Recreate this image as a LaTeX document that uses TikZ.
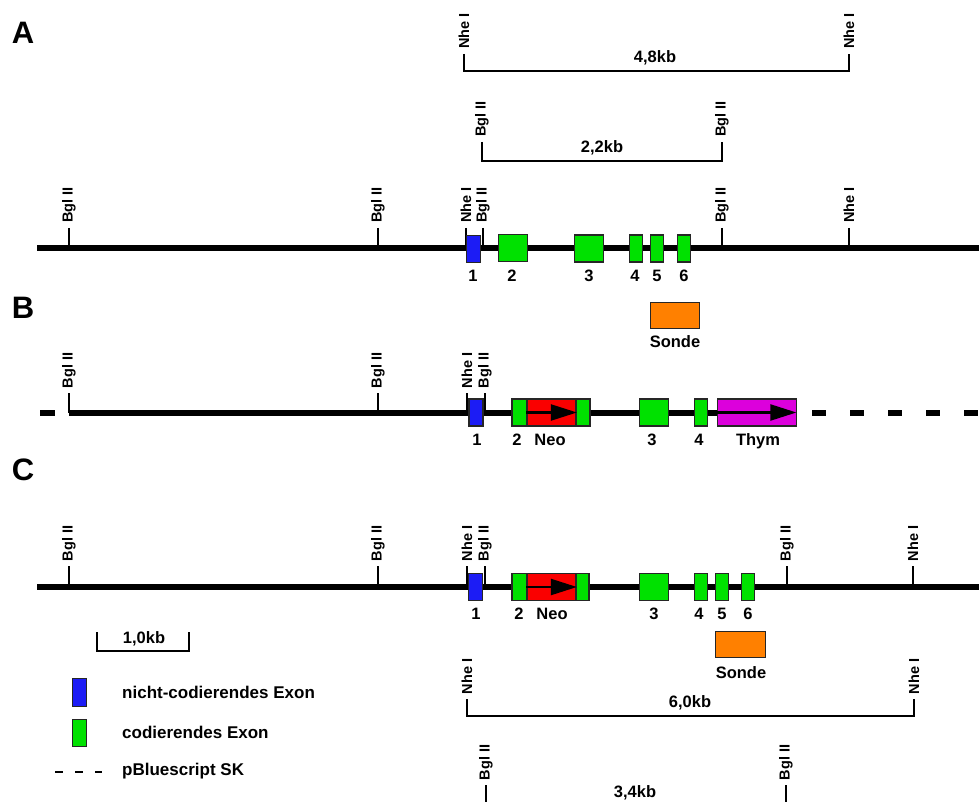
\documentclass[tikz,border=0pt]{standalone}
\usepackage{fontspec}
\setmainfont{Liberation Sans}
\usetikzlibrary{arrows.meta}
\definecolor{exonblue}{RGB}{28,28,245}
\definecolor{exongreen}{RGB}{0,225,0}
\definecolor{neored}{RGB}{250,0,0}
\definecolor{thymmag}{RGB}{220,0,220}
\definecolor{sondeorange}{RGB}{255,128,0}
\newcommand{\sitefont}{\bfseries\fontsize{14.5}{16}\selectfont}
\newcommand{\labfont}{\bfseries\fontsize{16.5}{18}\selectfont}
\newcommand{\legfont}{\bfseries\fontsize{17}{19}\selectfont}
\begin{document}
\begin{tikzpicture}[x=1pt, y=-1pt,
    dna/.style={line width=5.5pt},
    vector/.style={line width=5.5pt, dash pattern=on 14pt off 24pt},
    tick/.style={line width=1.7pt},
    bracket/.style={line width=1.7pt},
    site/.style={rotate=90, anchor=west, inner xsep=5pt, inner ysep=0pt, outer sep=0pt, font=\sitefont},
    exon/.style={draw=black!85, line width=1.8pt, fill=#1, minimum height=27pt, inner sep=0pt},
    num/.style={anchor=base, inner sep=0pt, font=\labfont},
    orf/.style={-{Triangle[length=26pt, width=16pt]}, line width=2.2pt},
    letter/.style={font=\bfseries\fontsize{31}{34}\selectfont}
]
    \useasboundingbox (0,0) rectangle (979,802);
    \clip (0,0) rectangle (979,802);

    % Panel letters
    \node[letter] (labA) at (23,33) {A};
    \node[letter] (labB) at (23,308) {B};
    \node[letter] (labC) at (23,470) {C};

    % A: fragments
    \node[site] (t1) at (464,54) {Nhe I};
    \node[site] (t2) at (849,54) {Nhe I};
    \draw[bracket] (t1.west) -- (t1.west |- 0,71) -| (t2.west);
    \node[num] (kbA1) at (655,63) {4,8kb};
    \node[site] (u1) at (482,142) {Bgl II};
    \node[site] (u2) at (722,142) {Bgl II};
    \draw[bracket] (u1.west) -- (u1.west |- 0,161) -| (u2.west);
    \node[num] (kbA2) at (602,153) {2,2kb};

    % A: wild type locus
    \coordinate (startA) at (37,248);
    \coordinate (endA) at (979,248);
    \draw[dna] (startA) -- (endA);
    \node[site] (a1) at (69,228) {Bgl II};
    \node[site] (a2) at (378,228) {Bgl II};
    \node[site] (a3) at (466,228) {Nhe I};
    \node[site] (a4) at (483,228) {Bgl II};
    \node[site] (a5) at (722,228) {Bgl II};
    \node[site] (a6) at (849,228) {Nhe I};
    \foreach \s in {a1,a2,a3,a4,a5,a6}
        \draw[tick] (\s.west) -- (\s.west |- startA);
    \node[exon=exonblue, minimum width=14pt] (ex1A) at (473.5,249) {};
    \node[exon=exongreen, minimum width=29pt] (ex2A) at (513,248) {};
    \node[exon=exongreen, minimum width=29pt] (ex3A) at (589,248.5) {};
    \node[exon=exongreen, minimum width=13pt] (ex4A) at (636,248.5) {};
    \node[exon=exongreen, minimum width=13pt] (ex5A) at (657,248.5) {};
    \node[exon=exongreen, minimum width=13pt] (ex6A) at (684,248.5) {};
    \node[num] (n1A) at (473,281) {1};
    \node[num] (n2A) at (512,281) {2};
    \node[num] (n3A) at (589,281) {3};
    \node[num] (n4A) at (635,281) {4};
    \node[num] (n5A) at (657,281) {5};
    \node[num] (n6A) at (684,281) {6};

    % Probe
    \node[exon=sondeorange, minimum width=49pt, minimum height=26pt] (sondeA) at (675,315.5) {};
    \node[num] (sondeAlab) at (675,347) {Sonde};

    % B: targeting construct
    \coordinate (dashL) at (40,413);
    \coordinate (dashR) at (55,413);
    \coordinate (startB) at (69,413);
    \coordinate (vecB) at (812,413);
    \coordinate (endB) at (979,413);
    \draw[dna] (dashL) -- (dashR);
    \draw[dna] (startB) -- (720,413);
    \draw[vector] (vecB) -- (endB);
    \node[site] (b1) at (69,393) {Bgl II};
    \node[site] (b2) at (378,393) {Bgl II};
    \node[site] (b3) at (467,393) {Nhe I};
    \node[site] (b4) at (485,393) {Bgl II};
    \foreach \s in {b1,b2,b3,b4}
        \draw[tick] (\s.west) -- (\s.west |- startB);
    \node[exon=exonblue, minimum width=14pt] (ex1B) at (476,412.5) {};
    \node[exon=exongreen, minimum width=15pt] (ex2B) at (519.5,412.5) {};
    \node[exon=neored, minimum width=49pt] (neoB) at (551.5,412.5) {};
    \node[exon=exongreen, minimum width=14pt] (ex2bB) at (583,412.5) {};
    \node[exon=exongreen, minimum width=29pt] (ex3B) at (654,412.5) {};
    \node[exon=exongreen, minimum width=13pt] (ex4B) at (701,412.5) {};
    \node[exon=thymmag, minimum width=79pt] (thymB) at (757,412.5) {};
    \draw[orf] (neoB.west) -- (neoB.east);
    \draw[orf, shorten >=1pt] (thymB.west) -- (thymB.east);
    \node[num] (n1B) at (477,445) {1};
    \node[num] (n2B) at (517,445) {2};
    \node[num] (neoBlab) at (550,445) {Neo};
    \node[num] (n3B) at (652,445) {3};
    \node[num] (n4B) at (699,445) {4};
    \node[num] (thymBlab) at (758,445) {Thym};

    % C: recombined locus
    \coordinate (startC) at (37,587);
    \coordinate (endC) at (979,587);
    \draw[dna] (startC) -- (endC);
    \node[site] (c1) at (69,566) {Bgl II};
    \node[site] (c2) at (378,566) {Bgl II};
    \node[site] (c3) at (467,566) {Nhe I};
    \node[site] (c4) at (485,566) {Bgl II};
    \node[site] (c5) at (787,566) {Bgl II};
    \node[site] (c6) at (913,566) {Nhe I};
    \foreach \s in {c1,c2,c3,c4,c5,c6}
        \draw[tick] (\s.west) -- (\s.west |- startC);
    \node[exon=exonblue, minimum width=14pt] (ex1C) at (475.5,587) {};
    \node[exon=exongreen, minimum width=15pt] (ex2C) at (519.5,587) {};
    \node[exon=neored, minimum width=49pt] (neoC) at (551.5,587) {};
    \node[exon=exongreen, minimum width=13pt] (ex2bC) at (582.5,587) {};
    \node[exon=exongreen, minimum width=29pt] (ex3C) at (654,587) {};
    \node[exon=exongreen, minimum width=13pt] (ex4C) at (701,587) {};
    \node[exon=exongreen, minimum width=13pt] (ex5C) at (722,587) {};
    \node[exon=exongreen, minimum width=13pt] (ex6C) at (748,587) {};
    \draw[orf] (neoC.west) -- (neoC.east);
    \node[num] (n1C) at (476,619) {1};
    \node[num] (n2C) at (519,619) {2};
    \node[num] (neoClab) at (552,619) {Neo};
    \node[num] (n3C) at (654,619) {3};
    \node[num] (n4C) at (699,619) {4};
    \node[num] (n5C) at (722,619) {5};
    \node[num] (n6C) at (748,619) {6};
    \node[exon=sondeorange, minimum width=50pt, minimum height=26pt] (sondeC) at (740.5,644.5) {};
    \node[num] (sondeClab) at (741,678) {Sonde};

    % C: fragments
    \node[site] (f1) at (467,699) {Nhe I};
    \node[site] (f2) at (914,699) {Nhe I};
    \draw[bracket] (f1.west) -- (f1.west |- 0,716) -| (f2.west);
    \node[num] (kbC1) at (690,707) {6,0kb};
    \node[site] (g1) at (486,785) {Bgl II};
    \node[site] (g2) at (786,785) {Bgl II};
    \draw[bracket] (g1.west) -- (g1.west |- 0,812) -| (g2.west);
    \node[num] (kbC2) at (635,797) {3,4kb};

    % Scale bar and legend
    \coordinate (sb1) at (97,632);
    \coordinate (sb2) at (189,632);
    \draw[bracket] (sb1) -- (sb1 |- 0,651) -| (sb2);
    \node[num] (sblab) at (144,643) {1,0kb};
    \node[exon=exonblue, minimum width=14pt, minimum height=28pt] (legnc) at (79.5,692.5) {};
    \node[exon=exongreen, minimum width=14pt, minimum height=27pt] (legc) at (79.5,733) {};
    \coordinate (legv1) at (55,772);
    \coordinate (legv2) at (102,772);
    \draw[line width=2.5pt, dash pattern=on 8pt off 12pt] (legv1) -- (legv2);
    \node[num, anchor=base west, font=\legfont] (legnclab) at (122,698) {nicht-codierendes Exon};
    \node[num, anchor=base west, font=\legfont] (legclab) at (122,738) {codierendes Exon};
    \node[num, anchor=base west, font=\legfont] (legvlab) at (122,775) {pBluescript SK};
\end{tikzpicture}
\end{document}
